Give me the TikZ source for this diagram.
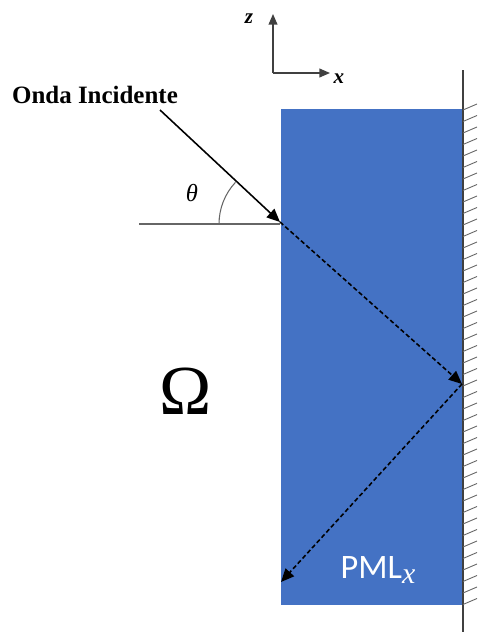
\documentclass[tikz,border=0pt]{standalone}
\usepackage{fontspec}
\setmainfont{Liberation Serif}
\newfontfamily\calib{Carlito}
\usetikzlibrary{arrows.meta}
\definecolor{pmlblue}{HTML}{4472C4}
\definecolor{wallgray}{HTML}{404040}
\begin{document}
\begin{tikzpicture}[x=0.02cm,y=-0.02cm,
  ray/.style={line width=0.9pt,-{Triangle[length=7.5pt,width=6.5pt]}},
  dray/.style={line width=0.9pt,dash pattern=on 2.5pt off 1.5pt,-{Triangle[length=7.5pt,width=6.5pt]}},
  axis/.style={line width=0.7pt,draw=black!75,-{Triangle[length=6pt,width=5pt]}},
  thin gray/.style={line width=0.6pt,draw=black!60},
  hatch/.style={line width=0.5pt,draw=black!60}]
\useasboundingbox (0,0) rectangle (477,632);
% PML region
\fill[pmlblue] (281,109) rectangle (463,605);
% wall
\coordinate (wtop) at (463,70);
\coordinate (wbot) at (463,632);
\draw[line width=1.1pt,draw=wallgray] (wtop) -- (wbot);
\foreach \yy in {0,...,43}{
  \draw[hatch] (463,{110+11.5*\yy}) -- ++(14,-6);
}
% axes
\coordinate (o) at (273,73);
\coordinate (zt) at (273,14);
\coordinate (xt) at (330,73);
\draw[axis] (o) -- (zt);
\draw[axis] (o) -- (xt);
\node[font=\fontsize{12}{14}\selectfont\bfseries\itshape] (zl) at (249,19) {z};
\node[font=\fontsize{12}{14}\selectfont\bfseries\itshape] (xl) at (339,79) {x};
% incident wave
\node[font=\fontsize{14.2}{16}\selectfont\bfseries] (lbl) at (95,95) {Onda Incidente};
\coordinate (s) at (160,110);
\coordinate (p) at (280,222);
\coordinate (hl) at (139,224);
\coordinate (r) at (462,384);
\coordinate (e) at (281,582);
\draw[thin gray] (hl) -- (280,224);
\draw[ray] (s) -- (p);
\draw[thin gray] (280,224) ++(-1.22cm,0) arc[start angle=180,end angle=137,radius=1.22cm];
\node[font=\fontsize{14}{16}\selectfont\itshape] (th) at (192,193) {θ};
% reflected rays
\draw[dray] (p) -- (r);
\draw[dray] (r) -- (e);
% labels
\node[font=\fontsize{40}{42}\selectfont] (om) at (186,391) {Ω};
\node[text=white,font=\fontsize{19.5}{21}\selectfont\calib] (pml) at (378,570) {PML\raisebox{-0.3ex}{\fontsize{17}{19}\selectfont\rmfamily\itshape x}};
\end{tikzpicture}
\end{document}
